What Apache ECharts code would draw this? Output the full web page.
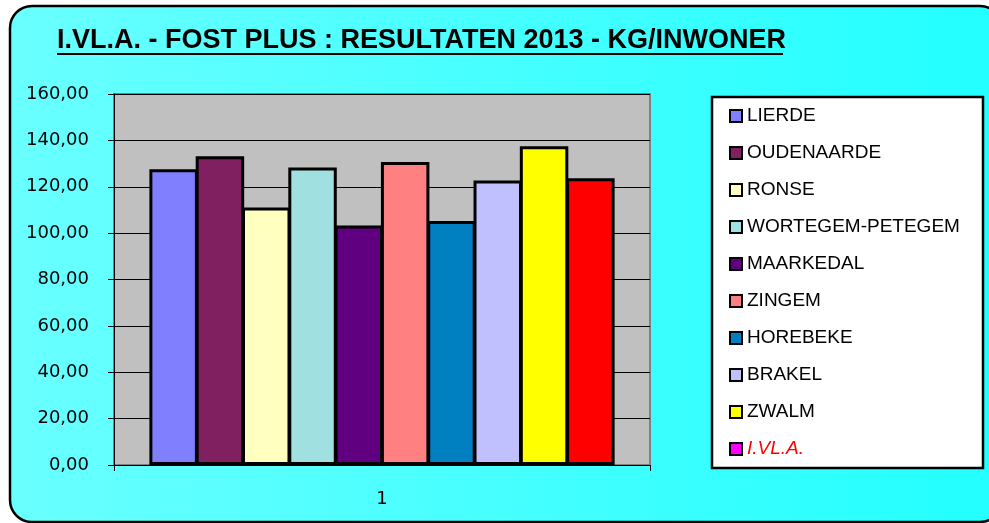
<!DOCTYPE html>
<html>
<head>
<meta charset="utf-8">
<title>I.VL.A. - FOST PLUS</title>
<script src="https://cdn.jsdelivr.net/npm/echarts@6/dist/echarts.min.js"></script>
<style>
	html, body { margin: 0; padding: 0; background: #fff; }
	#chart { width: 989px; height: 523px; }
</style>
</head>
<body>
<div id="chart"></div>
<script>
// data (kg per inhabitant)
var categories = ['1'];
var gemeenten = ['LIERDE', 'OUDENAARDE', 'RONSE', 'WORTEGEM-PETEGEM', 'MAARKEDAL',
	'ZINGEM', 'HOREBEKE', 'BRAKEL', 'ZWALM', 'I.VL.A.'];
var waarden = [127.5, 133.2, 111.1, 128.3, 103.3, 130.7, 105.2, 122.7, 137.5, 123.7];
var kleuren = ['#8080FF', '#802060', '#FFFFC0', '#A0E0E0', '#600080',
	'#FF8080', '#0080C0', '#C0C0FF', '#FFFF00', '#FF0000'];
var yMin = 0;
var yMax = 160;
var yStap = 20;

function fmtNum(v) {
	return v.toFixed(2).replace('.', ',');
}

function buildSeries() {
	var series = [];
	for (var i = 0; i < gemeenten.length; i++) {
		series.push({
			name: gemeenten[i],
			type: 'bar',
			data: [waarden[i]],
			// slight overlap so neighbouring borders merge into one line
			barGap: '-4.5%',
			barCategoryGap: '13.2%',
			itemStyle: {
				color: kleuren[i],
				borderColor: '#000',
				borderWidth: 3
			}
		});
	}
	return series;
}

function buildLegend() {
	var items = [];
	for (var i = 0; i < gemeenten.length; i++) {
		var item = { name: gemeenten[i] };
		// the legend swatch of the total is magenta, its label red italic
		if (gemeenten[i] == 'I.VL.A.') {
			item.itemStyle = { color: '#FF00FF' };
			item.textStyle = { color: '#FF0000', fontStyle: 'italic' };
		}
		items.push(item);
	}
	return items;
}

var chart = echarts.init(document.getElementById('chart'), null, { renderer: 'canvas' });

var option = {
	backgroundColor: '#fff',
	animation: false,
	textStyle: { fontFamily: 'Liberation Sans, Arial, sans-serif' },
	graphic: [{
		type: 'rect',
		z: -10,
		shape: { x: 10, y: 6, width: 992, height: 516, r: 22 },
		style: {
			fill: {
				type: 'linear', x: 0, y: 0, x2: 1, y2: 0,
				colorStops: [{ offset: 0, color: '#6AFFFF' }, { offset: 1, color: '#22FFFF' }]
			},
			stroke: '#000',
			lineWidth: 2.5
		}
	}, {
		// legend frame
		type: 'rect',
		z: -5,
		shape: { x: 712, y: 97, width: 271, height: 371 },
		style: { fill: '#fff', stroke: '#000', lineWidth: 2.5 }
	}, {
		// title underline
		type: 'line',
		z: 5,
		shape: { x1: 57, y1: 54, x2: 783, y2: 54 },
		style: { stroke: '#000', lineWidth: 2 }
	}],
	title: {
		text: 'I.VL.A. - FOST PLUS : RESULTATEN 2013 - KG/INWONER',
		left: 57,
		top: 27,
		padding: 0,
		textStyle: {
			fontFamily: 'Liberation Sans, Arial, sans-serif',
			fontWeight: 'bold',
			fontSize: 27,
			color: '#000'
		}
	},
	legend: {
		orient: 'vertical',
		left: 729,
		top: 106,
		padding: 0,
		itemWidth: 12,
		itemHeight: 12,
		itemGap: 17,
		icon: 'rect',
		selectedMode: false,
		itemStyle: { borderColor: '#000', borderWidth: 2 },
		textStyle: {
			fontFamily: 'Liberation Sans, Arial, sans-serif',
			fontSize: 19,
			lineHeight: 20,
			color: '#000'
		},
		data: buildLegend()
	},
	grid: {
		left: 114,
		right: 339,
		top: 94,
		bottom: 58,
		show: true,
		backgroundColor: '#C0C0C0',
		borderColor: '#808080',
		borderWidth: 2
	},
	xAxis: {
		type: 'category',
		data: categories,
		axisLine: { lineStyle: { color: '#000', width: 1 } },
		axisTick: { show: true, length: 6, lineStyle: { color: '#000' } },
		axisLabel: {
			margin: 25,
			fontFamily: 'DejaVu Sans, sans-serif',
			fontSize: 18,
			color: '#000'
		}
	},
	yAxis: {
		type: 'value',
		min: yMin,
		max: yMax,
		interval: yStap,
		axisLine: { show: true, lineStyle: { color: '#000', width: 1 } },
		axisTick: { show: true, length: 6, lineStyle: { color: '#000' } },
		splitLine: { show: true, lineStyle: { color: '#000', width: 1 } },
		axisLabel: {
			margin: 25,
			fontFamily: 'DejaVu Sans, sans-serif',
			fontSize: 18,
			color: '#000',
			formatter: fmtNum
		}
	},
	series: buildSeries()
};

chart.setOption(option);
</script>
</body>
</html>
